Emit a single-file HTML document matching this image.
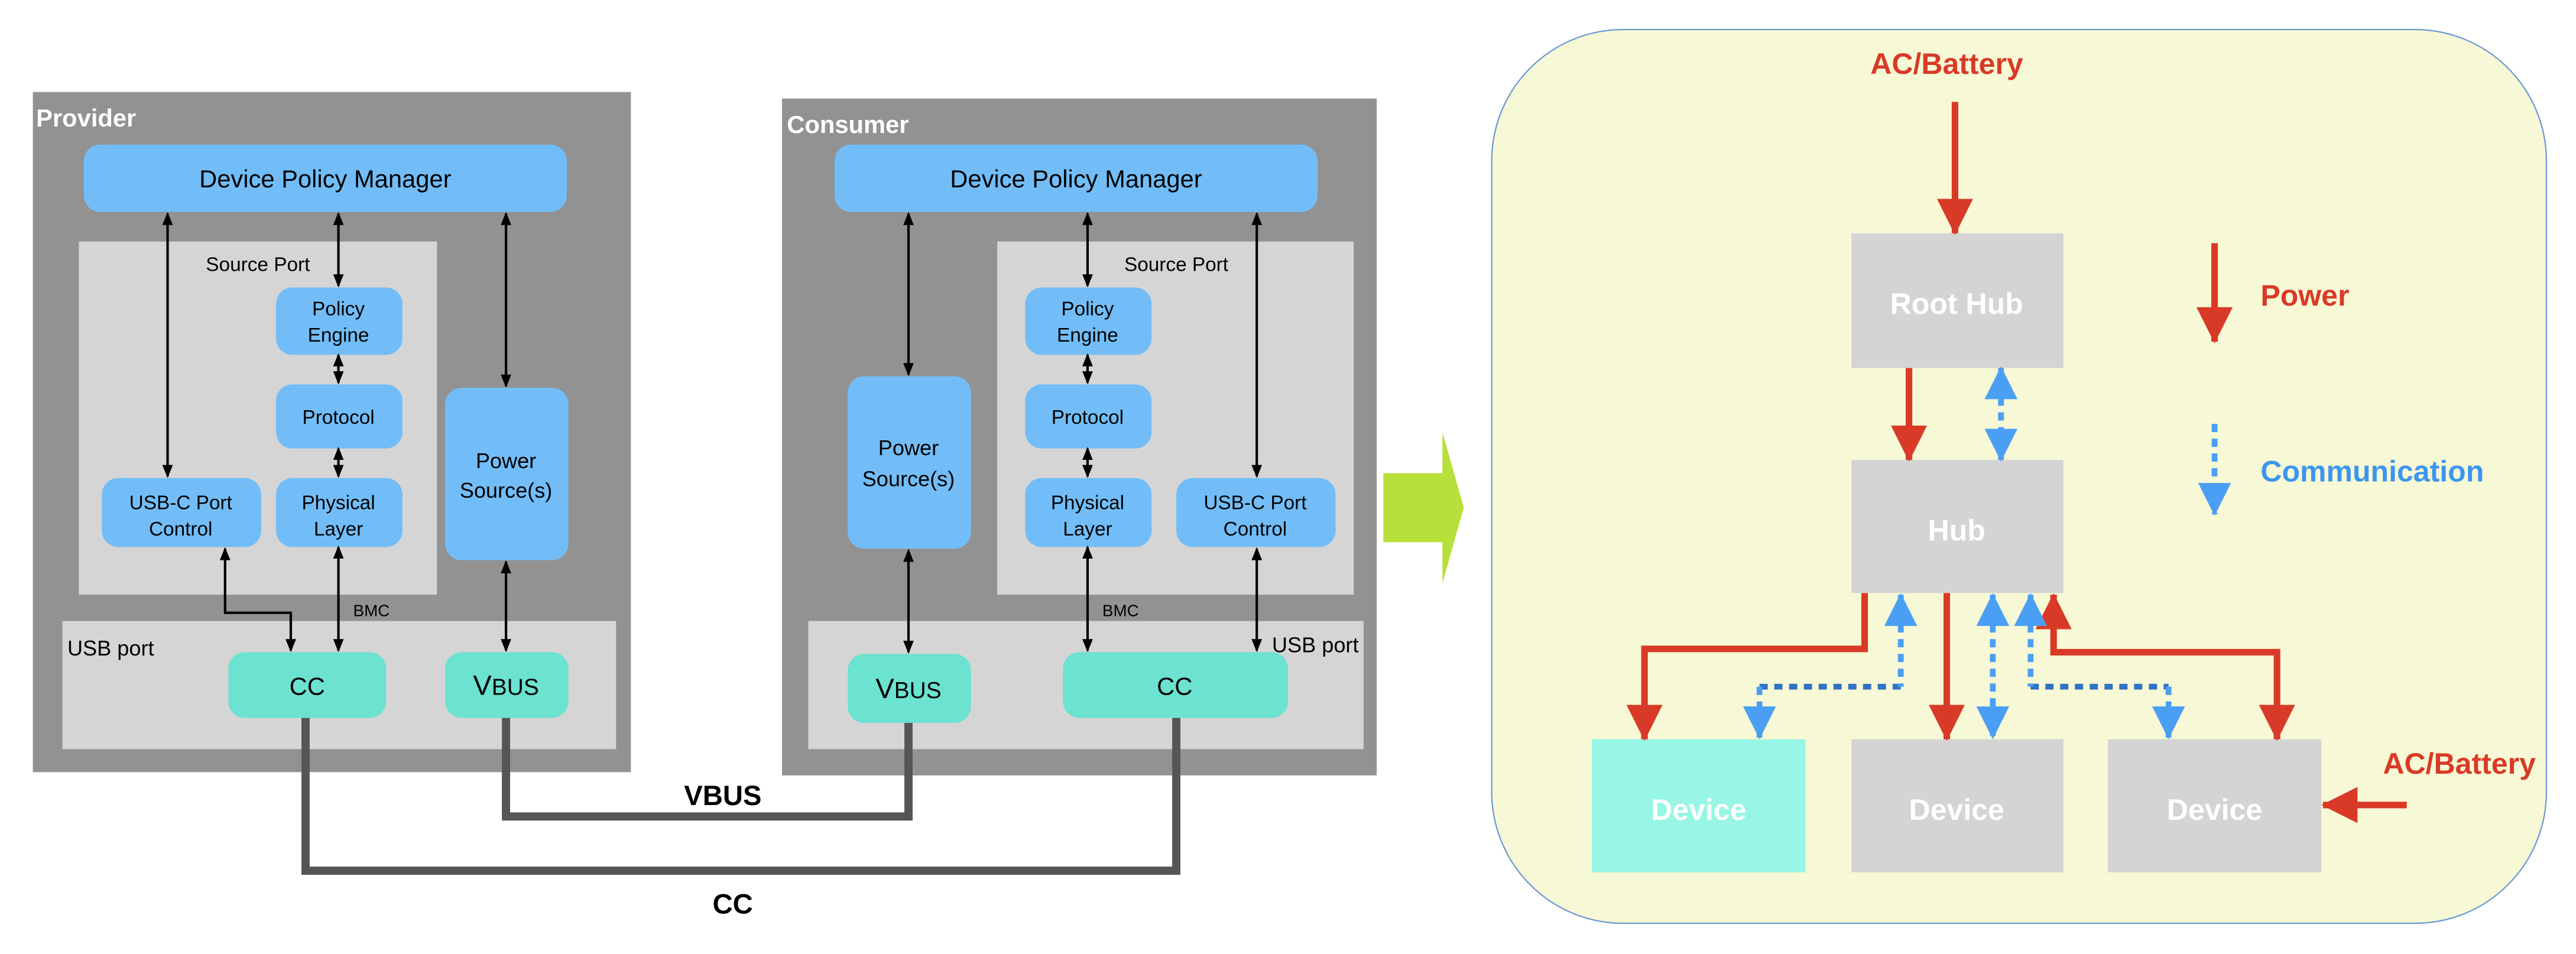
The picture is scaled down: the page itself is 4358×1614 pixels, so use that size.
<!DOCTYPE html>
<html><head><meta charset="utf-8"><style>html,body{margin:0;padding:0;background:#fff}svg{display:block}text{font-family:"Liberation Sans",sans-serif}</style></head><body>
<svg width="4358" height="1614" viewBox="0 0 1568 580.7" preserveAspectRatio="none" xmlns="http://www.w3.org/2000/svg">
<defs>
<marker id="ah" markerWidth="8" markerHeight="8" refX="7" refY="4" orient="auto-start-reverse" markerUnits="userSpaceOnUse"><path d="M0,0.8 L8,4 L0,7.2 z" fill="#000"/></marker>
<marker id="rh" markerWidth="22" markerHeight="24" refX="21" refY="12" orient="auto-start-reverse" markerUnits="userSpaceOnUse"><path d="M0,1 L22,12 L0,23 z" fill="#D93A27"/></marker>
<marker id="bh" markerWidth="20" markerHeight="22" refX="19" refY="11" orient="auto-start-reverse" markerUnits="userSpaceOnUse"><path d="M0,1 L20,11 L0,21 z" fill="#4A9FF5"/></marker>
</defs>
<g font-size="12" fill="#000">
<rect x="20" y="56" width="364" height="414" fill="#929292"/>
<text x="22" y="77" font-size="15" font-weight="bold" fill="#fff">Provider</text>
<rect x="51" y="88" width="294" height="41" rx="10" fill="#72BDF7"/>
<text x="198" y="114" font-size="15" text-anchor="middle">Device Policy Manager</text>
<rect x="48" y="147" width="218" height="215" fill="#D5D5D5"/>
<text x="157" y="165" text-anchor="middle">Source Port</text>
<rect x="168" y="175" width="77" height="41" rx="10" fill="#72BDF7"/>
<text x="206" y="192" text-anchor="middle">Policy</text><text x="206" y="208" text-anchor="middle">Engine</text>
<rect x="168" y="234" width="77" height="39" rx="10" fill="#72BDF7"/>
<text x="206" y="258" text-anchor="middle">Protocol</text>
<rect x="168" y="291" width="77" height="42" rx="10" fill="#72BDF7"/>
<text x="206" y="310" text-anchor="middle">Physical</text><text x="206" y="326" text-anchor="middle">Layer</text>
<rect x="62" y="291" width="97" height="42" rx="10" fill="#72BDF7"/>
<text x="110" y="310" text-anchor="middle">USB-C Port</text><text x="110" y="326" text-anchor="middle">Control</text>
<rect x="271" y="236" width="75" height="105" rx="10" fill="#72BDF7"/>
<text x="308" y="285" font-size="13" text-anchor="middle">Power</text><text x="308" y="303" font-size="13" text-anchor="middle">Source(s)</text>
<rect x="38" y="378" width="337" height="78" fill="#D5D5D5"/>
<text x="41" y="399" font-size="13">USB port</text>
<rect x="139" y="397" width="96" height="40" rx="10" fill="#6CE2D0"/>
<text x="187" y="423" font-size="15" text-anchor="middle">CC</text>
<rect x="271" y="397" width="75" height="40" rx="10" fill="#6CE2D0"/>
<text x="308" y="423" text-anchor="middle"><tspan font-size="17">V</tspan><tspan font-size="14">BUS</tspan></text>
<text x="215" y="375" font-size="10">BMC</text>
<g stroke="#000" stroke-width="1.5" fill="none" marker-start="url(#ah)" marker-end="url(#ah)">
<line x1="102" y1="130" x2="102" y2="290"/>
<line x1="206" y1="130" x2="206" y2="174"/>
<line x1="206" y1="216" x2="206" y2="233"/>
<line x1="206" y1="273" x2="206" y2="290"/>
<line x1="206" y1="333" x2="206" y2="396"/>
<line x1="308" y1="130" x2="308" y2="235"/>
<line x1="308" y1="342" x2="308" y2="396"/>
<polyline points="137,334 137,373 177,373 177,396"/>
</g>
<rect x="476" y="60" width="362" height="412" fill="#929292"/>
<text x="479" y="81" font-size="15" font-weight="bold" fill="#fff">Consumer</text>
<rect x="508" y="88" width="294" height="41" rx="10" fill="#72BDF7"/>
<text x="655" y="114" font-size="15" text-anchor="middle">Device Policy Manager</text>
<rect x="607" y="147" width="217" height="215" fill="#D5D5D5"/>
<text x="716" y="165" text-anchor="middle">Source Port</text>
<rect x="624" y="175" width="77" height="41" rx="10" fill="#72BDF7"/>
<text x="662" y="192" text-anchor="middle">Policy</text><text x="662" y="208" text-anchor="middle">Engine</text>
<rect x="624" y="234" width="77" height="39" rx="10" fill="#72BDF7"/>
<text x="662" y="258" text-anchor="middle">Protocol</text>
<rect x="624" y="291" width="77" height="42" rx="10" fill="#72BDF7"/>
<text x="662" y="310" text-anchor="middle">Physical</text><text x="662" y="326" text-anchor="middle">Layer</text>
<rect x="716" y="291" width="97" height="42" rx="10" fill="#72BDF7"/>
<text x="764" y="310" text-anchor="middle">USB-C Port</text><text x="764" y="326" text-anchor="middle">Control</text>
<rect x="516" y="229" width="75" height="105" rx="10" fill="#72BDF7"/>
<text x="553" y="277" font-size="13" text-anchor="middle">Power</text><text x="553" y="296" font-size="13" text-anchor="middle">Source(s)</text>
<rect x="492" y="378" width="338" height="78" fill="#D5D5D5"/>
<text x="827" y="397" font-size="13" text-anchor="end">USB port</text>
<rect x="516" y="398" width="75" height="42" rx="10" fill="#6CE2D0"/>
<text x="553" y="425" text-anchor="middle"><tspan font-size="17">V</tspan><tspan font-size="14">BUS</tspan></text>
<rect x="647" y="397" width="137" height="40" rx="10" fill="#6CE2D0"/>
<text x="715" y="423" font-size="15" text-anchor="middle">CC</text>
<text x="671" y="375" font-size="10">BMC</text>
<g stroke="#000" stroke-width="1.5" fill="none" marker-start="url(#ah)" marker-end="url(#ah)">
<line x1="553" y1="130" x2="553" y2="228"/>
<line x1="553" y1="335" x2="553" y2="397"/>
<line x1="662" y1="130" x2="662" y2="174"/>
<line x1="662" y1="216" x2="662" y2="233"/>
<line x1="662" y1="273" x2="662" y2="290"/>
<line x1="662" y1="333" x2="662" y2="396"/>
<line x1="765" y1="130" x2="765" y2="290"/>
<line x1="765" y1="334" x2="765" y2="396"/>
</g>
<polyline points="186,437 186,530 716,530 716,437" fill="none" stroke="#555" stroke-width="5"/>
<polyline points="308,437 308,497 553,497 553,440" fill="none" stroke="#555" stroke-width="5"/>
<text x="440" y="490" font-size="17" text-anchor="middle" font-weight="bold">VBUS</text>
<text x="446" y="556" font-size="17" text-anchor="middle" font-weight="bold">CC</text>
<polygon points="842,288 878,288 878,263 891,309 878,355 878,330 842,330" fill="#B8E03A"/>
</g>
<rect x="908" y="18" width="642" height="544" rx="80" fill="#F7F8D5" stroke="#6C98D5" stroke-width="0.8"/>
<g font-size="18" text-anchor="middle" fill="#fff" font-weight="bold">
<rect x="1127" y="142" width="129" height="82" fill="#D4D4D4"/>
<text x="1191" y="191">Root Hub</text>
<rect x="1127" y="280" width="129" height="81" fill="#D4D4D4"/>
<text x="1191" y="329">Hub</text>
<rect x="969" y="450" width="130" height="81" fill="#97F6E5"/>
<text x="1034" y="499">Device</text>
<rect x="1127" y="450" width="129" height="81" fill="#D4D4D4"/>
<text x="1191" y="499">Device</text>
<rect x="1283" y="450" width="130" height="81" fill="#D4D4D4"/>
<text x="1348" y="499">Device</text>
</g>
<g font-size="18" fill="#D93A27" font-weight="bold">
<text x="1185" y="45" text-anchor="middle">AC/Battery</text>
<text x="1376" y="186">Power</text>
<text x="1497" y="471" text-anchor="middle">AC/Battery</text>
</g>
<text x="1376" y="293" font-size="18" fill="#3C96F0" font-weight="bold">Communication</text>
<g stroke="#D93A27" stroke-width="4" fill="none">
<line x1="1190" y1="62" x2="1190" y2="142" marker-end="url(#rh)"/>
<line x1="1348" y1="148" x2="1348" y2="208" marker-end="url(#rh)"/>
<line x1="1162" y1="224" x2="1162" y2="280" marker-end="url(#rh)"/>
<polyline points="1135,361 1135,395 1001,395 1001,450" marker-end="url(#rh)"/>
<line x1="1185" y1="361" x2="1185" y2="450" marker-end="url(#rh)"/>
<polyline points="1250,362 1250,397 1386,397 1386,450" marker-start="url(#rh)" marker-end="url(#rh)"/>
<line x1="1465" y1="490" x2="1414" y2="490" marker-end="url(#rh)"/>
</g>
<g stroke="#2F73C4" stroke-width="3.5" fill="none" stroke-dasharray="5,4">
<line x1="1071" y1="418" x2="1157" y2="418"/>
<line x1="1236" y1="418" x2="1320" y2="418"/>
</g>
<g stroke="#4A9FF5" stroke-width="3.5" fill="none" stroke-dasharray="5,4">
<line x1="1348" y1="258" x2="1348" y2="313" marker-end="url(#bh)"/>
<line x1="1218" y1="224" x2="1218" y2="280" marker-start="url(#bh)" marker-end="url(#bh)"/>
<line x1="1157" y1="362" x2="1157" y2="418" marker-start="url(#bh)"/>
<line x1="1071" y1="418" x2="1071" y2="449" marker-end="url(#bh)"/>
<line x1="1213" y1="362" x2="1213" y2="449" marker-start="url(#bh)" marker-end="url(#bh)"/>
<line x1="1236" y1="362" x2="1236" y2="418" marker-start="url(#bh)"/>
<line x1="1320" y1="418" x2="1320" y2="449" marker-end="url(#bh)"/>
</g>
</svg>
</body></html>
